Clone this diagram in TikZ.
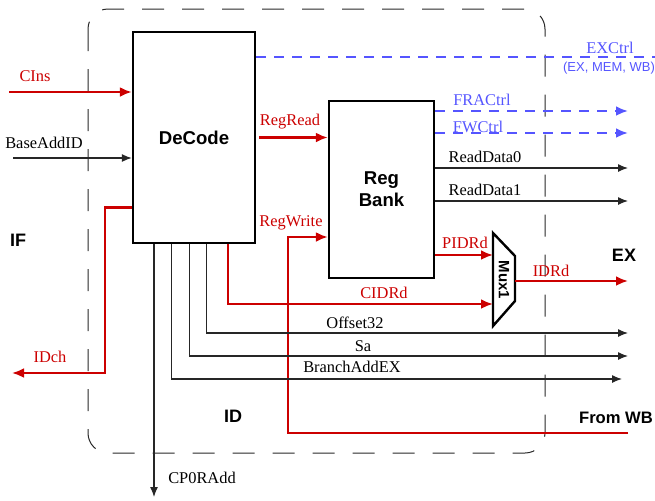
\documentclass[tikz,border=0pt]{standalone}
\usepackage{fontspec}
\setmainfont{Liberation Serif}
\setsansfont{Liberation Sans}
\usetikzlibrary{arrows.meta,positioning,calc}
\definecolor{sigred}{RGB}{204,0,0}
\definecolor{ctrlblue}{RGB}{85,85,255}
\definecolor{framegray}{RGB}{40,40,40}
\tikzset{
  unit/.style={
    draw=black,
    line width=1.2pt,
    align=center,
    inner sep=0pt,
    font=\sffamily\bfseries\fontsize{9.3}{11}\selectfont
  },
  sig/.style={-{Latex[length=5pt,width=4pt]}, line width=0.6pt, draw=black!85},
  redsig/.style={-{Latex[length=6pt,width=5pt]}, line width=1.2pt, draw=sigred},
  ctrl/.style={-{Latex[length=6pt,width=5pt]}, line width=1.2pt, draw=ctrlblue, dash pattern=on 5pt off 4pt},
  lbl/.style={inner sep=0pt, font=\fontsize{8.2}{10}\selectfont},
  redlbl/.style={lbl, text=sigred},
  bluelbl/.style={lbl, text=ctrlblue},
  stage/.style={inner sep=0pt, font=\sffamily\bfseries\fontsize{9}{11}\selectfont}
}
\begin{document}
\begin{tikzpicture}[x=0.5pt, y=-0.5pt]
    \useasboundingbox (0,0) rectangle (655,500);
    % ID stage frame
    \draw[framegray, line width=0.5pt, dash pattern=on 11pt off 9pt, rounded corners=10pt] (88,9) rectangle (545,453);

    \node[unit, minimum width=61pt, minimum height=105.5pt] (dec) at (194,137.5) {DeCode};
    \node[unit, minimum width=52.5pt, minimum height=88.5pt] (rb) at (381.5,189.5) {Reg\\Bank};
    \draw[line width=1.2pt] (493,233) -- (515,256) -- (515,301) -- (493,326) -- cycle;
    \node[stage, rotate=-90, font=\sffamily\bfseries\fontsize{7.5}{9}\selectfont] (mux) at (504,280) {Mux1};

    \coordinate (cinsIn) at (9,92);
    \coordinate (baseIn) at (13,158);
    \coordinate (idchOut) at (12,373);
    \coordinate (exctrlOut) at (655,57);
    \coordinate (fracOut) at (628,111);
    \coordinate (fwOut) at (628,133);
    \coordinate (rd0Out) at (628,168);
    \coordinate (rd1Out) at (628,201);
    \coordinate (rwTurn) at (288,237);
    \coordinate (wbIn) at (628,433);
    \coordinate (muxA) at (493,255);
    \coordinate (muxB) at (493,304);
    \coordinate (muxOut) at (515,281);
    \coordinate (idrdOut) at (628,281);
    \coordinate (offOut) at (628,333);
    \coordinate (saOut) at (628,356);
    \coordinate (brOut) at (622,379);
    \coordinate (cp0Out) at (154,497);

    % inputs from IF
    \draw[redsig] (cinsIn) -- (cinsIn -| dec.west);
    \draw[sig] (baseIn) -- (baseIn -| dec.west);
    \draw[redsig] ($(dec.west)+(0,70)$) -- ++(-27,0) |- (idchOut);
    % control
    \draw[ctrl, -] (exctrlOut -| dec.east) -- (exctrlOut);
    \draw[ctrl] (fracOut -| rb.east) -- (fracOut);
    \draw[ctrl] (fwOut -| rb.east) -- (fwOut);
    % register bank
    \draw[redsig] ($(dec.east)+(3,0)$) -- (dec.east -| rb.west);
    \draw[redsig] (wbIn) -| (rwTurn) -- (rwTurn -| rb.west);
    \draw[sig] (rd0Out -| rb.east) -- (rd0Out);
    \draw[sig] (rd1Out -| rb.east) -- (rd1Out);
    \draw[redsig] (muxA -| rb.east) -- (muxA);
    \draw[redsig] ($(dec.south west)+(96,0)$) |- (muxB);
    \draw[redsig] (muxOut) -- (idrdOut);
    % decoder outputs
    \draw[sig] ($(dec.south west)+(75,0)$) |- (offOut);
    \draw[sig] ($(dec.south west)+(58,0)$) |- (saOut);
    \draw[sig] ($(dec.south west)+(40,0)$) |- (brOut);
    \draw[sig] (dec.south -| cp0Out) -- (cp0Out);

    \node[redlbl] at (35,76) {CIns};
    \node[lbl] at (44,143) {BaseAddID};
    \node[redlbl] at (50,357) {IDch};
    \node[redlbl] at (290,122) {RegRead};
    \node[redlbl] at (291,223) {RegWrite};
    \node[bluelbl] at (610,48) {EXCtrl};
    \node[inner sep=0pt, text=ctrlblue, font=\sffamily\fontsize{6.5}{8}\selectfont] at (609,68) {(EX, MEM, WB)};
    \node[bluelbl] at (482,100) {FRACtrl};
    \node[bluelbl] at (478,127) {FWCtrl};
    \node[lbl] at (485,157) {ReadData0};
    \node[lbl] at (485,190) {ReadData1};
    \node[redlbl] at (465,243) {PIDRd};
    \node[redlbl] at (551,271) {IDRd};
    \node[redlbl] at (384,293) {CIDRd};
    \node[lbl] at (355,323) {Offset32};
    \node[lbl] at (363,346) {Sa};
    \node[lbl] at (352,367) {BranchAddEX};
    \node[lbl] at (202,478) {CP0RAdd};

    \node[stage] at (18,240) {IF};
    \node[stage] at (624,255) {EX};
    \node[stage] at (233,416) {ID};
    \node[stage, font=\sffamily\bfseries\fontsize{8.3}{10}\selectfont] at (616,418) {From WB};
  \end{tikzpicture}
\end{document}
